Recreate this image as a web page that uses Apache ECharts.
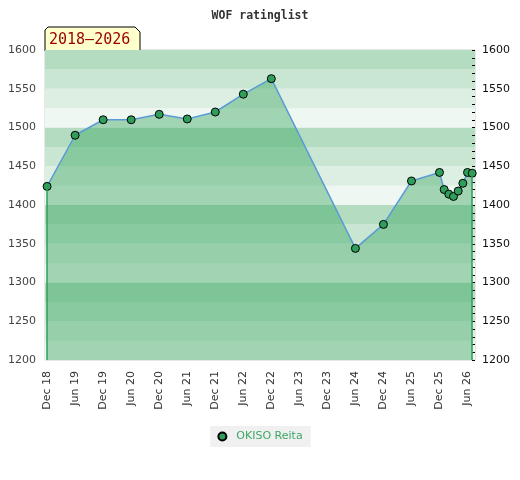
<!DOCTYPE html>
<html>
<head>
<meta charset="utf-8">
<script src="https://cdn.jsdelivr.net/npm/echarts@6/dist/echarts.min.js"></script>
<style>html,body{margin:0;padding:0;background:#fff;}#c{width:520px;height:480px;}</style>
</head>
<body>
<div id="c"></div>
<script>
// ---- data ----
const chartTitle = 'WOF ratinglist';
const periodLabel = '2018\u20132026';
const seriesName = 'OKISO Reita';
const dates = ['2018-12','2019-06','2019-12','2020-06','2020-12','2021-06','2021-12','2022-06','2022-12',
               '2024-06','2024-12','2025-06','2025-12','2026-01','2026-02','2026-03','2026-04','2026-05','2026-06','2026-07'];
const ratings = [1424,1490,1510,1510,1517,1511,1520,1543,1563,
                 1344,1375,1431,1442,1420,1414,1411,1418,1428,1442,1441];
const xTickLabels = ['Dec 18','Jun 19','Dec 19','Jun 20','Dec 20','Jun 21','Dec 21','Jun 22','Dec 22',
                     'Jun 23','Dec 23','Jun 24','Dec 24','Jun 25','Dec 25','Jun 26'];
const yMin = 1200, yMax = 1600;

// month index relative to Dec 2018
function monthIndex(s){ const [y,m] = s.split('-').map(Number); return (y-2018)*12 + (m-12); }
const points = dates.map((d,i)=>[monthIndex(d), ratings[i]]);
const tickMonths = xTickLabels.map((_,i)=>i*6);
const first = points[0], last = points[points.length-1];

const chart = echarts.init(document.getElementById('c'));
chart.setOption({
  animation:false,
  backgroundColor:'#fff',
  title:{text:chartTitle,left:'center',top:5,
    textStyle:{fontFamily:'DejaVu Sans Mono',fontWeight:'bold',fontSize:11.5,color:'#333'}},
  grid:{left:45,right:45,top:50,bottom:120,show:true,borderColor:'#d0d0d0',borderWidth:1,backgroundColor:'transparent'},
  legend:{bottom:33,left:'center',data:[seriesName],backgroundColor:'#f0f0f0',padding:[5,8,5,7],
    icon:'circle',itemWidth:8,itemHeight:8,
    textStyle:{fontFamily:'DejaVu Sans',fontSize:11,color:'#3aa865',padding:[0,0,0,5]}},
  xAxis:{type:'value',min:-0.45,max:91.6,
    axisLine:{show:false},axisTick:{show:false},splitLine:{show:false},
    axisLabel:{customValues:tickMonths,rotate:90,margin:11,fontFamily:'DejaVu Sans',fontSize:11,color:'#333',
      formatter:function(v){const i=tickMonths.indexOf(Math.round(v));return i>=0?xTickLabels[i]:'';}}},
  yAxis:[
    {type:'value',position:'left',min:yMin,max:yMax,interval:25,
     axisLine:{show:false},axisTick:{show:false},splitLine:{show:false},
     splitArea:{show:true,areaStyle:{color:['#eef7f1','#dcefe2','#c8e6d2','#b3dcc0']}},
     axisLabel:{margin:9,fontFamily:'DejaVu Sans',fontSize:11,color:'#444',
       formatter:function(v){return v%50===0?String(v):'';}}},
    {type:'value',position:'right',min:yMin,max:yMax,interval:10,
     axisLine:{show:false},splitLine:{show:false},
     axisTick:{show:true,inside:true,length:3,lineStyle:{color:'#000'}},
     axisLabel:{margin:7,fontFamily:'DejaVu Sans',fontSize:11,color:'#111',
       formatter:function(v){return v%50===0?String(v):'';}}}
  ],
  series:[{
    name:seriesName,type:'line',data:points,yAxisIndex:0,
    symbol:'circle',symbolSize:8,
    itemStyle:{color:'#2e9e5a',borderColor:'#000',borderWidth:1},
    lineStyle:{color:'#5b9bd5',width:1.5},
    areaStyle:{color:'rgba(46,160,87,0.4)',opacity:1,origin:'start'},
    markLine:{silent:true,symbol:'none',label:{show:false},
      lineStyle:{color:'#2e9e5a',width:1.5,type:'solid'},
      data:[[{coord:[first[0],first[1]]},{coord:[first[0],yMin]}],
            [{coord:[last[0],last[1]]},{coord:[last[0],yMin]}]]},
    z:3
  }],
  graphic:[{type:'group',z:100,children:[
    {type:'polygon',shape:{points:[[45,51],[45,30],[48,27],[135,27],[140,32],[140,51]]},
     style:{fill:'#ffffcc',stroke:'#000',lineWidth:1}},
    {type:'text',x:49,y:40,style:{text:periodLabel,font:'15px "DejaVu Sans Mono"',fill:'#990000',verticalAlign:'middle'}}
  ]}]
});
</script>
</body>
</html>
